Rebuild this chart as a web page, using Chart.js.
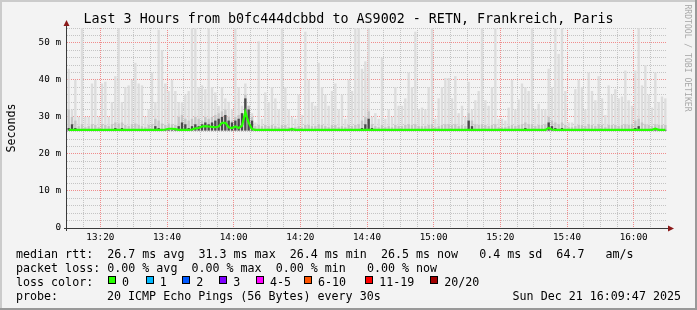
<!DOCTYPE html>
<html><head><meta charset="utf-8">
<script src="https://cdn.jsdelivr.net/npm/chart.js@4/dist/chart.umd.min.js"></script>
<style>
html,body{margin:0;padding:0;background:#f3f3f3;}
#frame{position:relative;width:697px;height:310px;background:#f3f3f3;overflow:hidden;font-family:'DejaVu Sans Mono',monospace;color:#000;}
#c{position:absolute;left:0;top:0;}
.b{position:absolute;}
.t{position:absolute;white-space:pre;font-size:11.67px;line-height:14px;}
.box{position:absolute;width:8px;height:8px;box-sizing:border-box;border:1px solid #000;top:276px;}
#title{position:absolute;left:0;top:11px;width:697px;text-align:center;font-size:13.35px;line-height:16px;white-space:pre;}
#ylab{position:absolute;left:-14px;top:121px;width:50px;height:14px;text-align:center;font-size:11.67px;line-height:14px;transform:rotate(-90deg);transform-origin:50% 50%;}
#wm{position:absolute;left:634px;top:53px;width:108px;height:10px;text-align:center;font-size:8.1px;line-height:10px;color:#a8a8a8;transform:rotate(90deg);transform-origin:50% 50%;white-space:pre;}
</style>
</head><body>
<div id="frame">
<canvas id="c" width="697" height="310"></canvas>
<div class="b" style="left:0;top:0;width:697px;height:2px;background:#cbcbcb"></div>
<div class="b" style="left:0;top:0;width:2px;height:310px;background:#cbcbcb"></div>
<div class="b" style="left:695px;top:0;width:2px;height:310px;background:#999"></div>
<div class="b" style="left:0;top:308px;width:697px;height:2px;background:#999"></div>
<div id="title">Last 3 Hours from b0fc444dcbbd to AS9002 - RETN, Frankreich, Paris</div>
<div id="ylab">Seconds</div>
<div id="wm">RRDTOOL / TOBI OETIKER</div>
<div class="t" style="left:16px;top:247px">median rtt:  26.7 ms avg  31.3 ms max  26.4 ms min  26.5 ms now   0.4 ms sd  64.7   am/s</div>
<div class="t" style="left:16px;top:261px">packet loss: 0.00 % avg  0.00 % max  0.00 % min   0.00 % now</div>
<div class="t" style="left:16px;top:275px">loss color:</div>
<div id="lossrow"></div>
<div class="t" style="left:16px;top:289px">probe:</div>
<div class="t" style="left:107px;top:289px">20 ICMP Echo Pings (56 Bytes) every 30s</div>
<div class="t" style="right:16px;top:289px">Sun Dec 21 16:09:47 2025</div>
</div>
<script>
// ---- data ----
const startTime = '13:10';
const xTickLabels = ['13:20','13:40','14:00','14:20','14:40','15:00','15:20','15:40','16:00'];
const yTickLabels = ['0','10 m','20 m','30 m','40 m','50 m'];
const lossLabels = ['0','1','2','3','4-5','6-10','11-19','20/20'];
const lossColors = ['#26ff00','#00b8ff','#0059ff','#7e00ff','#ff00ff','#ff5500','#ff0000','#a10000'];
const smokeBase = 26.3;
// per-minute smoke maximum (ms), 13:10 .. 16:10
const smokeMax = [
43,32,40,30,54,30,30,39,40,30,
39,39.5,30,34,41,54,34,38,38.5,40,
44.6,39,38.5,30,32,42,34,53.5,48,39,
37,40,37,34,34,36,37,54,54,38,
38.5,37.5,54,38,36.6,33,38,35,34,32,
54,38,33,39,33,31,28.5,50.4,29.5,36.6,
34,38,35,32,54,38,32,30,29.5,36,
30.5,53,40,34,33,44.6,38,36,33,37,
39,32,36,29.5,40,37,54,54,43,45,
54,30,31,29.5,46,29.5,32,30,38,33,
33,35,42,38,53,32,32.5,32,38,54,
29.5,35,38,40.5,40.5,35,41,31,33,30,
39.5,32,34.5,37,54,34.5,33,38,54,29.5,
29.5,29,32.5,40,32,34.7,39,38,37,54,
32,33.5,32,32,43,38,54,47,54,37,
28.5,28.5,37.5,40,38,32,42,37,34.5,41,
35,30.5,38.5,36,37.5,35,35.5,42.5,34.5,33,
42.5,54,38.5,44,36,32.5,42,34,35.5,35
];
// per-minute medium smoke top (ms)
const smokeMid = [
32,30,29,27.5,28,27.2,27.5,28,27.8,27.2,
28,27.8,27.5,28,28.5,28.2,28.5,27.8,27.5,28,
28.2,27.8,27.5,27.2,27.8,28,29.5,29,28.2,27.8,
28.2,28,27.8,30,30.5,29.5,29,29.5,30,29.5,
29,30,29.5,30,30.5,31,31.5,32,30,29,
30,30.5,31,36,33,30,27.5,27.8,27.5,27.8,
27.5,27.8,27.5,27.2,27.8,27.8,27.2,27.2,27.2,27.5,
27.2,27.8,27.8,27.5,27.5,28,27.8,27.5,27.2,27.8,
27.8,27.2,27.5,27.2,27.8,27.5,27.8,28,29,30,
31.5,28,27.5,27.2,27.8,27.2,27.5,27.2,27.8,27.5,
27.5,27.8,28,27.8,28,27.5,27.5,27.5,27.8,28,
27.2,27.5,27.8,28,28,27.8,28,27.5,27.8,27.5,
31,29,28,27.8,28,27.8,27.5,27.8,28,27.2,
27.2,27.2,27.5,27.8,27.5,27.8,28,28.5,28,28,
27.5,27.8,27.8,28,30,29,28.5,28,28.5,27.8,
27.2,27.2,27.5,27.8,27.8,27.5,28,27.8,27.5,28,
27.8,27.2,27.8,27.8,27.8,27.5,27.8,28,27.8,28,
29,29.5,28.5,28,27.8,27.5,28,27.8,27.8,27.8
];
// per-minute dark smoke top (ms)
const smokeDark = [
27,28,27,26.5,26.5,26.5,26.5,26.5,26.5,26.5,
26.5,26.5,26.5,26.5,27,26.5,27,26.5,26.5,26.5,
26.5,26.5,26.5,26.5,26.5,26.5,27.5,27,26.5,26.5,
26.5,26.5,26.5,27.5,28.5,28,27,27.5,28,27.5,
28,28.5,28,28.5,29,29.5,30,30.5,29,28.5,
29,29.5,31,35,32,29,26.5,26.5,26.5,26.5,
26.5,26.5,26.5,26.5,26.5,26.5,26.5,26.5,26.5,26.5,
26.5,26.5,26.5,26.5,26.5,26.5,26.5,26.5,26.5,26.5,
26.5,26.5,26.5,26.5,26.5,26.5,26.5,26.5,27,28,
29.5,27,26.5,26.5,26.5,26.5,26.5,26.5,26.5,26.5,
26.5,26.5,26.5,26.5,26.5,26.5,26.5,26.5,26.5,26.5,
26.5,26.5,26.5,26.5,26.5,26.5,26.5,26.5,26.5,26.5,
29,27.5,26.5,26.5,26.5,26.5,26.5,26.5,26.5,26.5,
26.5,26.5,26.5,26.5,26.5,26.5,26.5,27,26.5,26.5,
26.5,26.5,26.5,26.5,28.5,27.5,27,26.5,27,26.5,
26.5,26.5,26.5,26.5,26.5,26.5,26.5,26.5,26.5,26.5,
26.5,26.5,26.5,26.5,26.5,26.5,26.5,26.5,26.5,26.5,
27,27.5,26.5,26.5,26.5,26.5,26.5,26.5,26.5,26.5
];
// per-minute median rtt (ms)
const medianRtt = [
26.5,26.5,26.5,26.5,26.5,26.5,26.5,26.5,26.5,26.5,
26.5,26.5,26.5,26.5,26.5,26.5,26.5,26.5,26.5,26.5,
26.5,26.5,26.5,26.5,26.5,26.5,26.5,26.5,26.5,26.6,
26.8,26.8,26.7,26.5,26.5,26.5,26.5,26.6,26.9,27.0,
27.4,27.5,27.4,27.3,27.2,27.4,28.4,28.4,27.2,27.0,
27.4,27.0,27.6,31.3,28.4,26.7,26.5,26.5,26.5,26.5,
26.5,26.5,26.5,26.5,26.5,26.5,26.5,26.7,26.5,26.5,
26.5,26.5,26.5,26.5,26.5,26.5,26.5,26.5,26.5,26.5,
26.5,26.5,26.5,26.5,26.5,26.5,26.5,26.5,26.5,26.5,
26.5,26.5,26.5,26.5,26.5,26.5,26.5,26.5,26.5,26.5,
26.5,26.5,26.5,26.5,26.5,26.5,26.5,26.5,26.5,26.5,
26.5,26.5,26.5,26.5,26.5,26.5,26.5,26.5,26.5,26.5,
26.5,26.5,26.5,26.5,26.5,26.5,26.5,26.5,26.5,26.5,
26.5,26.5,26.5,26.5,26.5,26.5,26.5,26.5,26.5,26.5,
26.5,26.5,26.5,26.5,27.0,26.6,26.5,26.5,26.5,26.5,
26.5,26.5,26.5,26.5,26.5,26.5,26.5,26.5,26.5,26.5,
26.5,26.5,26.5,26.5,26.5,26.5,26.5,26.5,26.5,26.5,
26.5,26.5,26.5,26.5,26.5,26.5,26.8,26.5,26.5,26.5
];

// ---- loss colour legend (HTML) ----
const boxX = [108,145.7,182.3,219.3,256,304,365.3,430.3];
const row = document.getElementById('lossrow');
lossLabels.forEach((lab,i)=>{
  const b=document.createElement('div'); b.className='box';
  b.style.left=boxX[i]+'px'; b.style.background=lossColors[i]; row.appendChild(b);
  const t=document.createElement('div'); t.className='t';
  t.style.left=(boxX[i]+14)+'px'; t.style.top='275px'; t.textContent=lab; row.appendChild(t);
});

// ---- chart ----
const FONT='DejaVu Sans Mono';
const axisPlugin = {
  id:'rrdAxes',
  afterDatasetsDraw(chart){
    const {ctx, chartArea:a} = chart;
    ctx.save();
    ctx.strokeStyle='#3a3a3a'; ctx.lineWidth=1;
    ctx.beginPath();
    ctx.moveTo(a.left-0.5, a.bottom+3); ctx.lineTo(a.left-0.5, 25);
    ctx.moveTo(a.left-3, a.bottom+0.5); ctx.lineTo(669, a.bottom+0.5);
    ctx.stroke();
    ctx.fillStyle='#8b1a1a';
    ctx.beginPath();
    ctx.moveTo(a.left-0.5, 20); ctx.lineTo(a.left-3.5, 26); ctx.lineTo(a.left+2.5, 26); ctx.closePath(); ctx.fill();
    ctx.beginPath();
    ctx.moveTo(674, a.bottom+0.5); ctx.lineTo(668, a.bottom-2.5); ctx.lineTo(668, a.bottom+3.5); ctx.closePath(); ctx.fill();
    ctx.restore();
  }
};
const barDs = (label, arr, color, order, pct) => ({
  label, order, grouped:false, barPercentage:pct, categoryPercentage:1,
  backgroundColor:color, borderWidth:0,
  data: arr.map((v,i)=>({x:i+0.5, y:[smokeBase, v]}))
});
new Chart(document.getElementById('c'), {
  type:'bar',
  data:{ datasets:[
    {type:'line', label:'median rtt', order:0, data: medianRtt.map((v,i)=>({x:i+0.5,y:v})),
     borderColor:lossColors[0], borderWidth:2.2, pointRadius:0, tension:0, fill:false},
    barDs('smoke dark', smokeDark, '#4a4a4a', 1, 0.7),
    barDs('smoke mid', smokeMid, '#c4c4c4', 2, 0.7),
    barDs('smoke', smokeMax, '#dcdcdc', 3, 0.7)
  ]},
  options:{
    responsive:false, animation:false, devicePixelRatio:1,
    layout:{padding:{left:0,top:28,right:30,bottom:0}},
    plugins:{legend:{display:false}, tooltip:{enabled:false}, title:{display:false}},
    scales:{
      x:{type:'linear', min:0, max:180, offset:false,
        afterFit(s){ s.height=82; },
        ticks:{stepSize:5, autoSkip:false, maxRotation:0, minRotation:0, padding:4, color:'#000',
          font:{family:FONT, size:9.3},
          callback(v){ return ((v-10)%20===0 && v>=10) ? xTickLabels[(v-10)/20] : ''; }},
        grid:{offset:false, drawTicks:false, lineWidth:1,
          color(c){ const v=c.tick && c.tick.value; if(v===0||v===180) return 'rgba(0,0,0,0)'; return ((v-10)%20===0)?'#f08c8c':'#c4c4c4'; }},
        border:{display:false, dash:[1,1]}
      },
      y:{min:0, max:54,
        afterFit(s){ s.width=67; },
        ticks:{stepSize:2, autoSkip:false, padding:6, color:'#000', font:{family:FONT, size:9.3},
          callback(v){ return (v%10===0) ? yTickLabels[v/10] : ''; }},
        grid:{drawTicks:false, lineWidth:1,
          color(c){ const v=c.tick && c.tick.value; if(v===0) return 'rgba(0,0,0,0)'; return (v%10===0)?'#f08c8c':'#c4c4c4'; }},
        border:{display:false, dash:[1,1]}
      }
    }
  },
  plugins:[axisPlugin]
});
</script>
</body></html>
